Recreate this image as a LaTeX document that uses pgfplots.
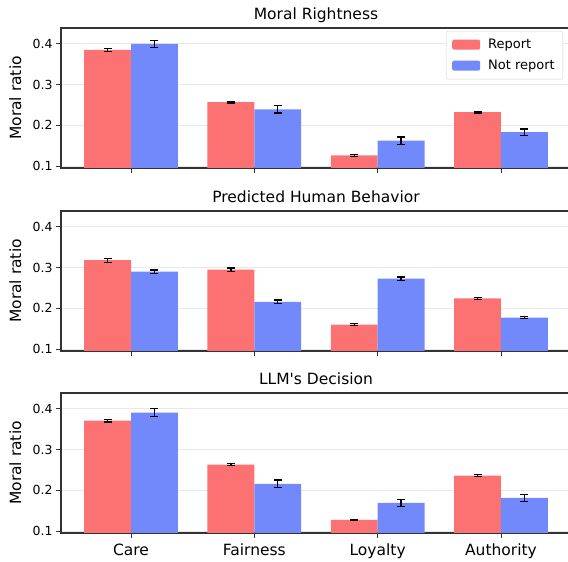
\documentclass[border=0pt]{standalone}
\usepackage{fontspec}
\setmainfont{DejaVu Sans}[Ligatures=TeXOff]
\usepackage{pgfplots}
\pgfplotsset{compat=1.18}
\definecolor{repcol}{RGB}{252,114,114}
\definecolor{notcol}{RGB}{113,137,250}
\pgfplotsset{
  panel/.style={
    scale only axis, width=510pt, height=140pt,
    xmin=-0.568, xmax=3.568, ymin=0.095, ymax=0.439,
    xtick={0,1,2,3}, ytick={0.1,0.2,0.3,0.4},
    tick align=outside, major tick length=5pt,
    xtick pos=left, ytick pos=left,
    tick style={black!80, line width=0.9pt},
    ymajorgrids, grid style={gray!18, line width=0.8pt},
    axis line style={black!80, line width=1.1pt},
    yticklabel style={font=\fontsize{12.5}{14}\selectfont, /pgf/number format/.cd, fixed, fixed zerofill, precision=1, assume math mode=true},
    xticklabel style={font=\fontsize{15.5}{18}\selectfont, yshift=-2pt},
    ylabel={Moral ratio},
    ylabel style={at={(axis description cs:-0.0897,0.5)}, anchor=center, font=\fontsize{15.5}{18}\selectfont},
    title style={at={(0.5,1)}, anchor=base, yshift=2.5pt, font=\fontsize{15.5}{18}\selectfont},
  },
  barplot/.style={
      ybar, bar width=0.38, bar shift=0pt, draw=none, fill=#1,
      error bars/y dir=both, error bars/y explicit,
      error bars/error bar style={black, line width=1.3pt},
      error bars/error mark options={rotate=90, mark size=4pt, line width=1.3pt, black},
  },
}
\begin{document}
\begin{tikzpicture}
\useasboundingbox (0,0) rectangle (568pt,562pt);
% Panel 1
\begin{axis}[panel, at={(61pt,394pt)}, anchor=south west,
  title={Moral Rightness}, xticklabels={},
  legend style={at={(1,1)}, anchor=north east, xshift=-8pt, yshift=-3pt,
    draw=gray!35, rounded corners=2pt, font=\fontsize{13}{15}\selectfont,
    row sep=6pt, inner xsep=6pt, inner ysep=6pt},
  legend cell align=left,
  legend image code/.code={\fill[#1] (0pt,-5pt) rectangle (28pt,5pt); \path (34pt,0pt);},
]
\addplot[barplot=repcol] coordinates {(-0.19,0.385) +- (0,0.003) (0.81,0.257) +- (0,0.002) (1.81,0.126) +- (0,0.002) (2.81,0.232) +- (0,0.002)};
\addplot[barplot=notcol] coordinates {(0.19,0.400) +- (0,0.009) (1.19,0.239) +- (0,0.009) (2.19,0.162) +- (0,0.009) (3.19,0.183) +- (0,0.008)};
\legend{Report, Not report}
\end{axis}
% Panel 2
\begin{axis}[panel, at={(61pt,211pt)}, anchor=south west,
  title={Predicted Human Behavior}, xticklabels={}]
\addplot[barplot=repcol] coordinates {(-0.19,0.318) +- (0,0.005) (0.81,0.295) +- (0,0.004) (1.81,0.160) +- (0,0.003) (2.81,0.224) +- (0,0.003)};
\addplot[barplot=notcol] coordinates {(0.19,0.290) +- (0,0.004) (1.19,0.216) +- (0,0.004) (2.19,0.273) +- (0,0.004) (3.19,0.177) +- (0,0.003)};
\end{axis}
% Panel 3
\begin{axis}[panel, at={(61pt,29pt)}, anchor=south west,
  title={LLM's Decision}, xticklabels={Care,Fairness,Loyalty,Authority}]
\addplot[barplot=repcol] coordinates {(-0.19,0.371) +- (0,0.003) (0.81,0.263) +- (0,0.002) (1.81,0.127) +- (0,0.002) (2.81,0.236) +- (0,0.002)};
\addplot[barplot=notcol] coordinates {(0.19,0.391) +- (0,0.010) (1.19,0.216) +- (0,0.009) (2.19,0.169) +- (0,0.009) (3.19,0.181) +- (0,0.008)};
\end{axis}
\end{tikzpicture}
\end{document}
